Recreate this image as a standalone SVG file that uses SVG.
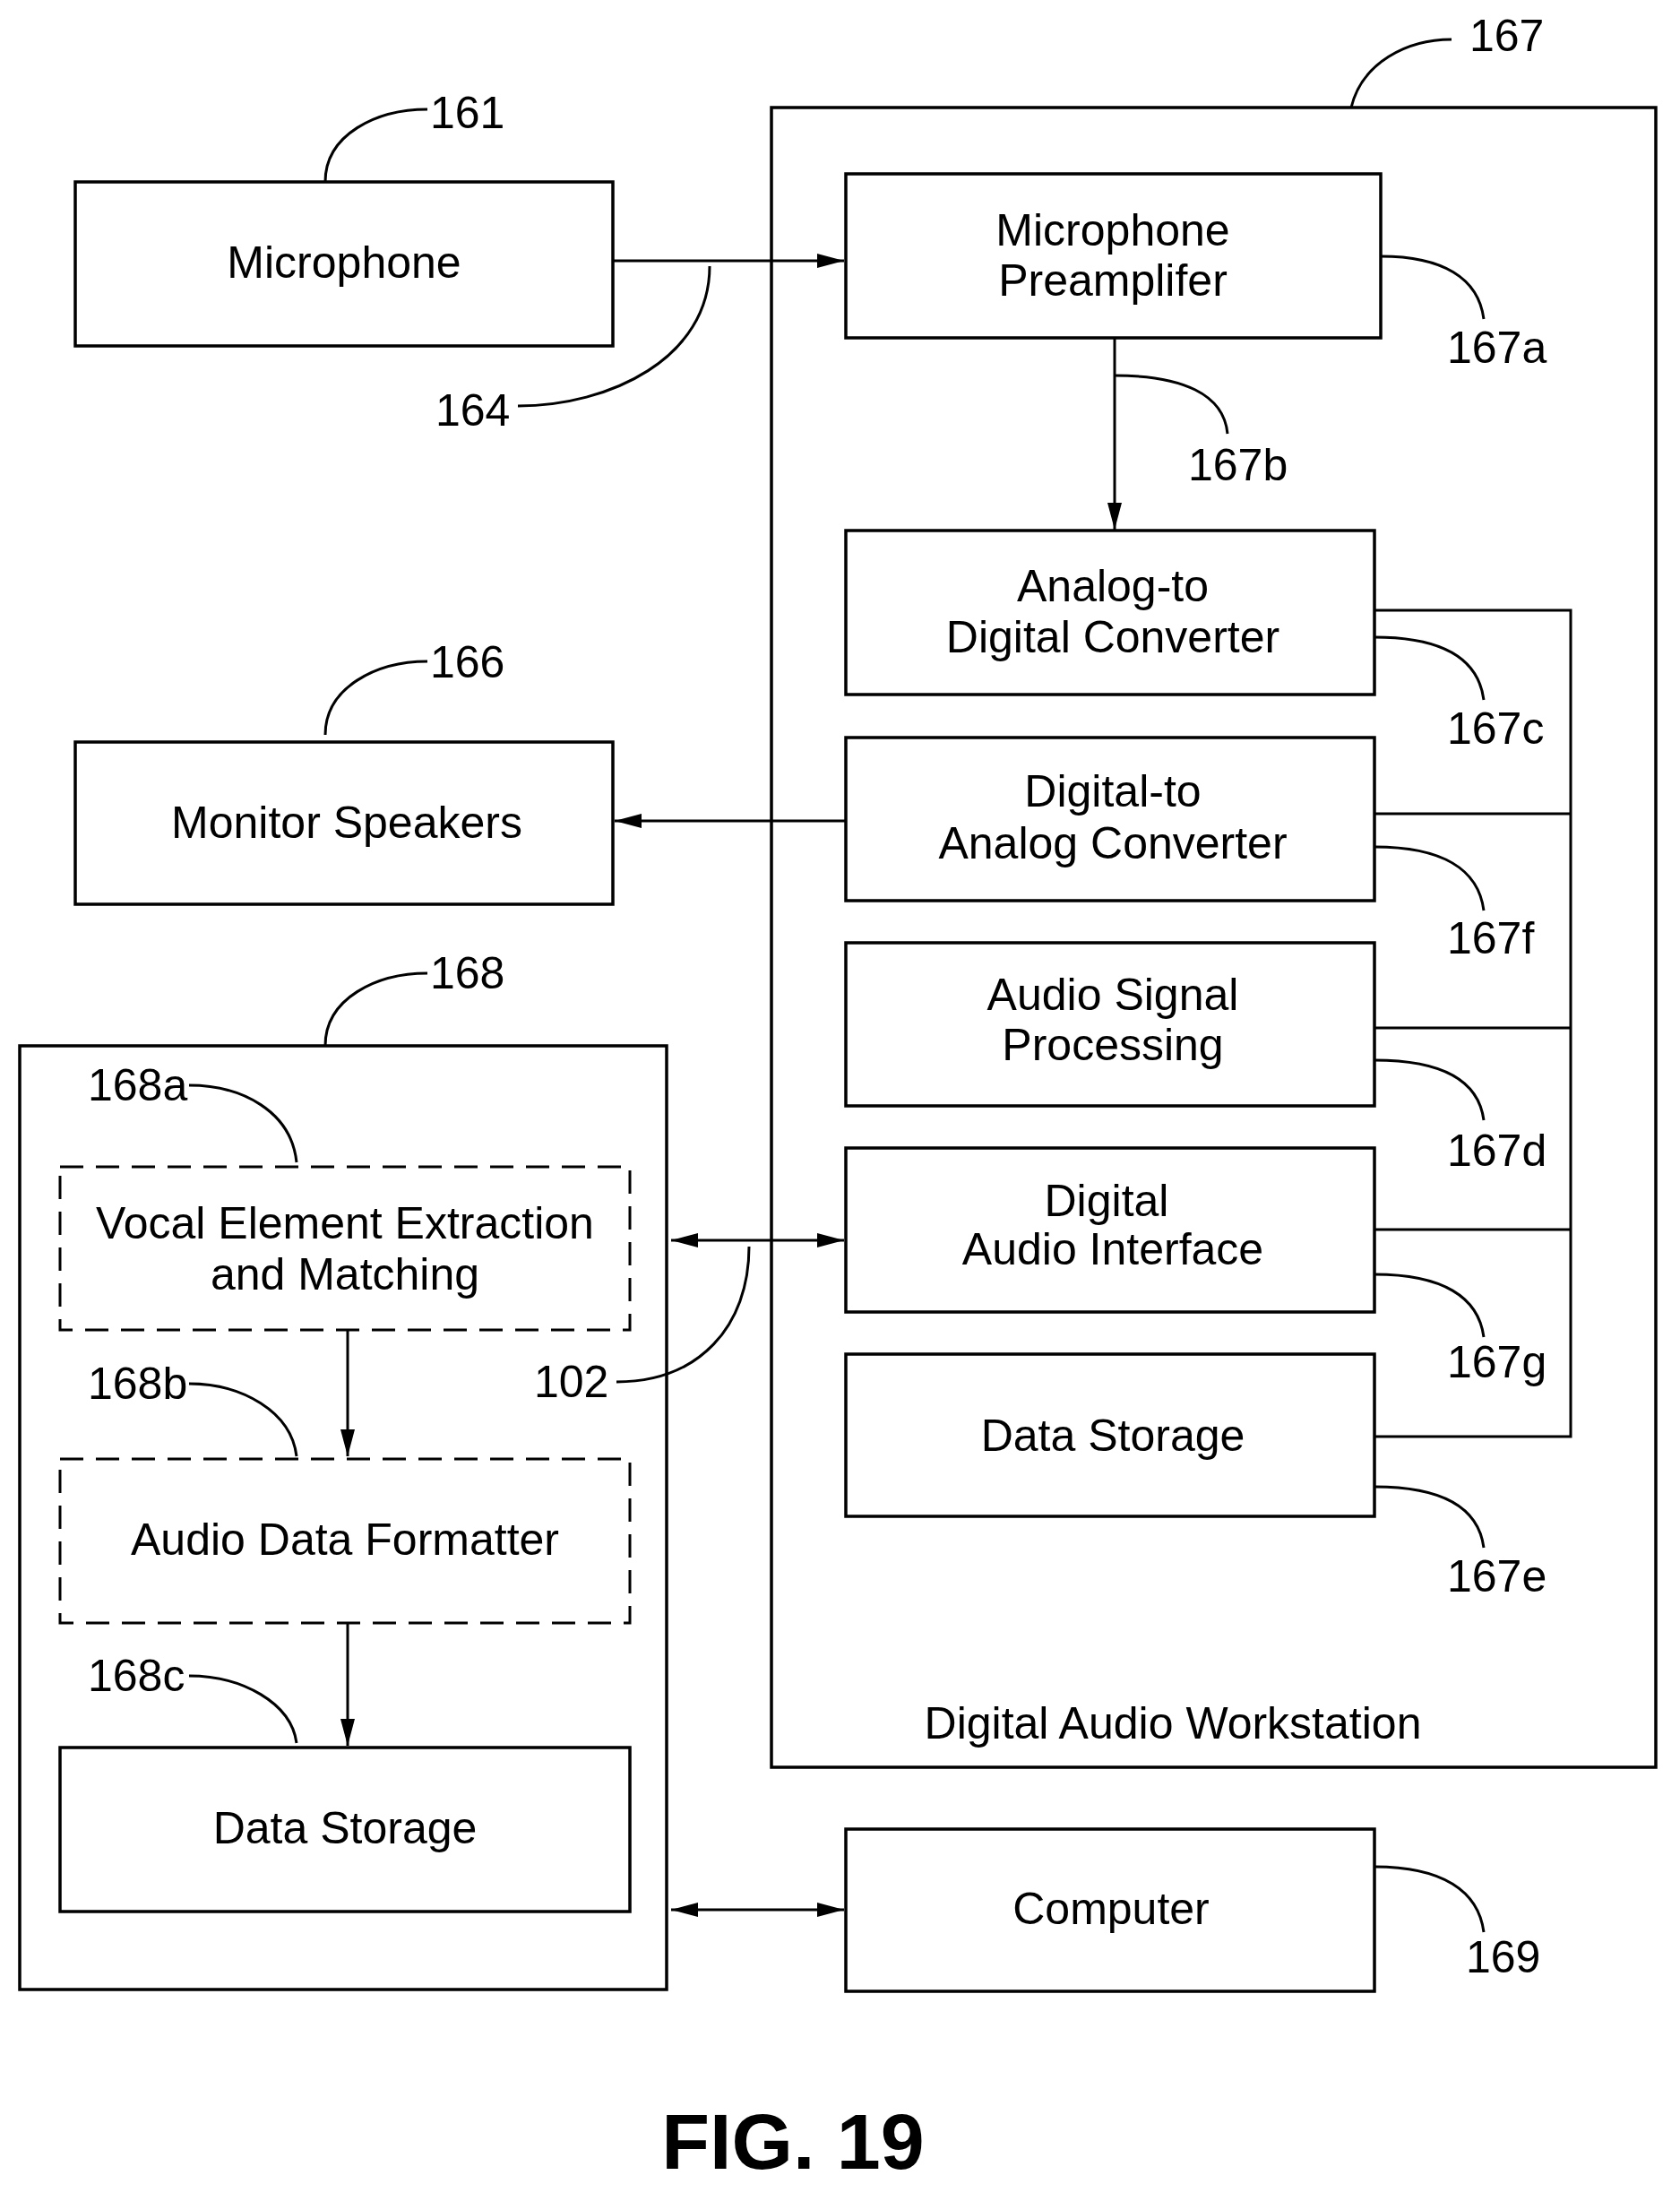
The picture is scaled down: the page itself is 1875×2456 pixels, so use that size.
<svg xmlns="http://www.w3.org/2000/svg" width="1875" height="2456" viewBox="0 0 1875 2456">
<style>
.b{fill:#fff;stroke:#000;stroke-width:3.5}
.d{fill:none;stroke:#000;stroke-width:3;stroke-dasharray:26,14}
.l{fill:none;stroke:#000;stroke-width:3}
text{font-family:"Liberation Sans",Arial,sans-serif;font-size:50px;fill:#000}
.c{text-anchor:middle}
</style>
<defs>
<marker id="a" markerWidth="12" markerHeight="10" refX="12" refY="5" orient="auto-start-reverse" markerUnits="userSpaceOnUse" viewBox="0 0 12 10"><path d="M0,0 L12,5 L0,10z" fill="#000"/></marker>
<marker id="A" viewBox="0 0 30 20" refX="30" refY="10" markerWidth="30" markerHeight="20" orient="auto-start-reverse" markerUnits="userSpaceOnUse"><path d="M0,2 L30,10 L0,18z" fill="#000"/></marker>
</defs>
<rect width="1875" height="2456" fill="#fff"/>
<g id="daw"><rect class="b" x="861" y="120" width="987" height="1852"/><text class="c" x="1309" y="1940">Digital Audio Workstation</text></g>
<g id="n168"><rect class="b" x="22" y="1167" width="722" height="1053"/></g>
<g id="mic"><rect class="b" x="84" y="203" width="600" height="183"/><text class="c" x="384" y="310">Microphone</text></g>
<g id="pre"><rect class="b" x="944" y="194" width="597" height="183"/><text class="c" x="1242" y="274">Microphone</text><text class="c" x="1242" y="330">Preamplifer</text></g>
<g id="adc"><rect class="b" x="944" y="592" width="590" height="183"/><text class="c" x="1242" y="671">Analog-to</text><text class="c" x="1242" y="728">Digital Converter</text></g>
<g id="dac"><rect class="b" x="944" y="823" width="590" height="182"/><text class="c" x="1242" y="900">Digital-to</text><text class="c" x="1242" y="958">Analog Converter</text></g>
<g id="asp"><rect class="b" x="944" y="1052" width="590" height="182"/><text class="c" x="1242" y="1127">Audio Signal</text><text class="c" x="1242" y="1183">Processing</text></g>
<g id="dai"><rect class="b" x="944" y="1281" width="590" height="183"/><text class="c" x="1235" y="1357">Digital</text><text class="c" x="1242" y="1411">Audio Interface</text></g>
<g id="ds1"><rect class="b" x="944" y="1511" width="590" height="181"/><text class="c" x="1242" y="1619">Data Storage</text></g>
<g id="mon"><rect class="b" x="84" y="828" width="600" height="181"/><text class="c" x="387" y="935">Monitor Speakers</text></g>
<g id="vem"><rect class="d" x="67" y="1302" width="636" height="182"/><text class="c" x="385" y="1382">Vocal Element Extraction</text><text class="c" x="385" y="1439">and Matching</text></g>
<g id="adf"><rect class="d" x="67" y="1628" width="636" height="183"/><text class="c" x="385" y="1735">Audio Data Formatter</text></g>
<g id="ds2"><rect class="b" x="67" y="1950" width="636" height="183"/><text class="c" x="385" y="2057">Data Storage</text></g>
<g id="comp"><rect class="b" x="944" y="2041" width="590" height="181"/><text class="c" x="1240" y="2147">Computer</text></g>
<g id="connectors">
<path class="l" d="M684,291 H942" marker-end="url(#A)"/>
<path class="l" d="M1244,377 V591" marker-end="url(#A)"/>
<path class="l" d="M944,916 H686" marker-end="url(#A)"/>
<path class="l" d="M1534,681 H1753 V1603 H1534 M1534,908 H1753 M1534,1147 H1753 M1534,1372 H1753"/>
<path class="l" d="M749,1384 H942" marker-start="url(#A)" marker-end="url(#A)"/>
<path class="l" d="M749,2131 H942" marker-start="url(#A)" marker-end="url(#A)"/>
<path class="l" d="M388,1484 V1625" marker-end="url(#A)"/>
<path class="l" d="M388,1811 V1948" marker-end="url(#A)"/>
</g>
<g id="leaders" class="l">
<path class="l" d="M363,203 C363,150 420,122 477,122"/>
<path class="l" d="M792,297 C792,400 680,453 578,453"/>
<path class="l" d="M1508,120 C1520,70 1570,44 1620,44"/>
<path class="l" d="M1244,419 C1320,419 1366,440 1370,484"/>
<path class="l" d="M1541,286 C1610,286 1650,310 1656,356"/>
<path class="l" d="M1534,711 C1610,711 1650,735 1656,781"/>
<path class="l" d="M1534,945 C1610,945 1650,970 1656,1016"/>
<path class="l" d="M1534,1183 C1610,1183 1650,1205 1656,1250"/>
<path class="l" d="M1534,1422 C1610,1422 1650,1447 1656,1492"/>
<path class="l" d="M1534,1659 C1610,1659 1650,1682 1656,1727"/>
<path class="l" d="M1534,2083 C1610,2083 1650,2110 1656,2156"/>
<path class="l" d="M363,820 C363,767 420,738 477,738"/>
<path class="l" d="M363,1167 C363,1114 420,1086 477,1086"/>
<path class="l" d="M211,1211 C270,1211 325,1240 331,1297"/>
<path class="l" d="M211,1544 C270,1544 325,1575 331,1625"/>
<path class="l" d="M211,1870 C270,1870 325,1900 331,1945"/>
<path class="l" d="M688,1542 C780,1542 836,1480 836,1391"/>
</g>
<g id="labels">
<text x="480" y="143">161</text><text x="486" y="475">164</text><text x="1640" y="57">167</text>
<text x="1615" y="405">167a</text><text x="1326" y="536">167b</text><text x="1615" y="830">167c</text>
<text x="1615" y="1064">167f</text><text x="1615" y="1301">167d</text><text x="1615" y="1537">167g</text>
<text x="1615" y="1776">167e</text><text x="1636" y="2201">169</text>
<text x="480" y="756">166</text><text x="480" y="1103">168</text>
<text x="98" y="1228">168a</text><text x="98" y="1561">168b</text><text x="98" y="1887">168c</text>
<text x="596" y="1559">102</text>
<text class="c" x="885" y="2420" style="font-size:88px;font-weight:bold">FIG. 19</text>
</g>
</svg>
